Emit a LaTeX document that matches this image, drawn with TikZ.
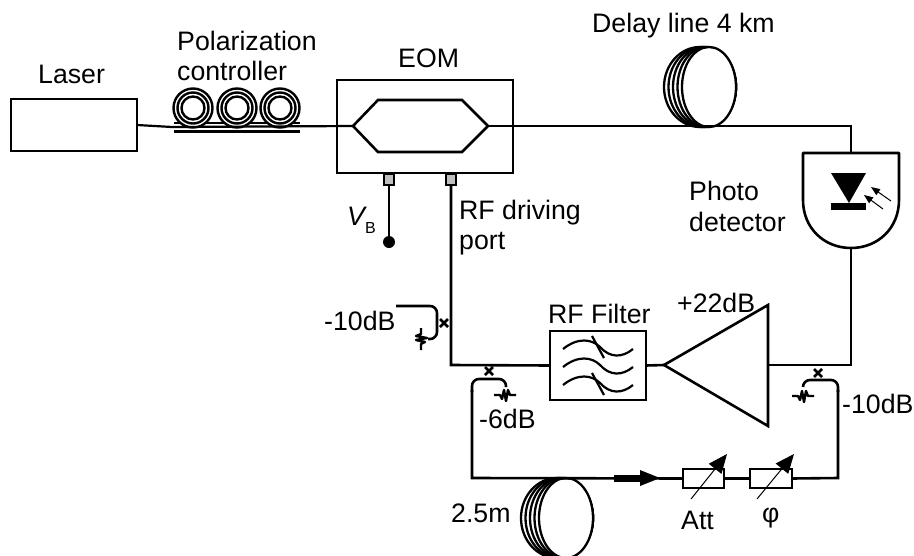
\documentclass[tikz,border=0pt]{standalone}
\usepackage{fontspec}
\setmainfont{Liberation Sans}
\usetikzlibrary{arrows.meta}
\tikzset{
  wire/.style={line width=2.6pt,line join=miter},
  box/.style={draw,line width=2.6pt,inner sep=0pt,outer sep=0pt,fill=white},
  lbl/.style={inner sep=0pt,anchor=base west,font=\fontsize{26.7}{30}\selectfont},
  port/.style={draw,line width=1.8pt,fill=black!25,inner sep=0pt,outer sep=0pt,minimum width=10pt,minimum height=11pt},
  pics/coil/.style={code={
    \foreach \off in {18,13.5,9,4.5,0}
      \draw[line width=2.3pt,fill=white] (-\off/2,0) ellipse (27+\off/2 and 40);
  }},
  pics/trim/.style={code={
    \draw[line width=2.4pt,line join=round] (-11,0) -- (-5,0) -- (-3,4) -- (-1,-5) -- (1,6) -- (3,-5) -- (5,0) -- (11,0);
  }},
  pics/cross/.style={code={
    \draw[line width=2.6pt] (-4,-4) -- (4,4) (-4,4) -- (4,-4);
  }},
}
\begin{document}
\begin{tikzpicture}[x=1pt,y=-1pt]
  \useasboundingbox (0,0) rectangle (914,555);
  % Boxes
  \node[box,minimum width=126pt,minimum height=52pt] (laser) at (74,125) {};
  \node[box,minimum width=176pt,minimum height=93pt] (eom) at (425,126.5) {};
  \node[box,minimum width=96pt,minimum height=69pt] (filter) at (598,365.5) {};
  \node[port] (bias) at (389,179.5) {};
  \node[port] (rfport) at (451,179.5) {};
  \coordinate (mzin) at (353,126);
  \coordinate (mzout) at (488,126);
  \coordinate (ampin) at (664,365);
  \coordinate (ampout) at (768,365);
  \coordinate (pdtop) at (851,153);
  \coordinate (pdbot) at (851,248);
  \coordinate (vbend) at (389,242);
  \fill (vbend) circle (6);
  % Polarization controller
  \draw[line width=2.6pt] (174,123) -- (300,123);
  \foreach \cx in {193,237,280}
    \foreach \rr in {19.5,15.5,11.5}
      \draw[line width=2.4pt,fill=white] (\cx,108) circle (\rr);
  \draw[line width=3pt] (174,131) -- (300,131);
  % Optical path
  \draw[line width=2.2pt] (laser.east) -- (172,127) -- (mzin);
  \draw[wire] (mzin) -- (378,100) -- (462,100) -- (mzout) -- (462,152) -- (378,152) -- cycle;
  \pic at (709,87) {coil};
  \draw[wire] (mzout) -- (851,126) -- (pdtop);
  % Photodetector
  \draw[wire,line join=round] (803,153) -- (899,153) -- (899,200) .. controls (899,228) and (878,248) .. (pdbot) .. controls (824,248) and (803,228) .. (803,200) -- cycle;
  \fill (831,173) -- (866,173) -- (849,203) -- cycle;
  \fill (831,203) rectangle (866,210);
  \draw[line width=1pt,-{Triangle[length=9pt,width=7pt]}] (891,201) -- (871,187);
  \draw[line width=1pt,-{Triangle[length=9pt,width=7pt]}] (883,209) -- (864,195);
  % RF path
  \draw[wire] (bias) -- (vbend);
  \draw[wire] (rfport) -- (451,365) -- (filter.west);
  \draw[wire] (filter.east) -- (ampin);
  \draw[wire] (ampin) -- (768,305) -- (768,426) -- cycle;
  \draw[wire] (ampout) -- (851,365) -- (pdbot);
  % Filter curves
  \foreach \dy in {0,18,36}
    \draw[line width=2.2pt] (563,349+\dy) .. controls (578,337+\dy) and (592,339+\dy) .. (600,347+\dy) .. controls (610,358+\dy) and (622,358+\dy) .. (633,349+\dy);
  \draw[line width=2.2pt] (592,336) -- (604,358);
  \draw[line width=2.2pt] (592,373) -- (604,395);
  % Couplers
  \pic at (444,323) {cross};
  \pic at (489,371) {cross};
  \pic at (818,373) {cross};
  \draw[wire,rounded corners=7pt] (396,306) -- (437,306) -- (437,339) -- (428,339);
  \pic[rotate=90] at (421,339) {trim};
  \pic at (505,395) {trim};
  \pic at (803,396) {trim};
  % Delay loop
  \node[box,minimum width=41pt,minimum height=19pt] (att) at (703.5,478.5) {};
  \node[box,minimum width=42pt,minimum height=19pt] (phase) at (771,478.5) {};
  \pic at (566,518) {coil};
  \draw[wire] (472,390) -- (472,478) -- (att.west);
  \draw[wire,rounded corners=7pt] (506,387) -- (506,379) -- (472,379) -- (472,392);
  \draw[wire] (att.east) -- (phase.west);
  \draw[wire] (phase.east) -- (838,478) -- (838,390);
  \draw[wire,rounded corners=7pt] (838,392) -- (838,380) -- (803,380) -- (803,387);
  \fill (614,474.5) rectangle (640,481.5);
  \fill (640,470) -- (660,478) -- (640,486) -- cycle;
  \draw[line width=1pt,-{Triangle[length=19pt,width=16pt]}] (691,499) -- (727,454);
  \draw[line width=1pt,-{Triangle[length=19pt,width=16pt]}] (757,499) -- (794,454);
  % Labels
  \node[lbl] (lasertxt) at (38,83) {Laser};
  \node[lbl] (poltxt) at (177,50) {Polarization};
  \node[lbl] (ctrltxt) at (177,80) {controller};
  \node[lbl] (eomtxt) at (398,67) {EOM};
  \node[lbl] (delaytxt) at (592,32) {Delay line 4 km};
  \node[lbl] (phototxt) at (689,200) {Photo};
  \node[lbl] (dettxt) at (689,231) {detector};
  \node[lbl] (rftxt) at (459,219) {RF driving};
  \node[lbl] (porttxt) at (459,249) {port};
  \node[lbl,font=\fontsize{26.7}{30}\selectfont\itshape] (vtxt) at (347,225) {V};
  \node[lbl,font=\fontsize{16}{18}\selectfont] (btxt) at (365,233) {B};
  \node[lbl] (cplatxt) at (324,330) {-10dB};
  \node[lbl] (filttxt) at (548,323) {RF Filter};
  \node[lbl] (gaintxt) at (677,312) {+22dB};
  \node[lbl] (cplbtxt) at (479,428) {-6dB};
  \node[lbl] (cplctxt) at (842,413) {-10dB};
  \node[lbl] (lentxt) at (451,522) {2.5m};
  \node[lbl] (atttxt) at (681,529) {Att};
  \node[lbl] (phitxt) at (762,522) {φ};
\end{tikzpicture}
\end{document}
